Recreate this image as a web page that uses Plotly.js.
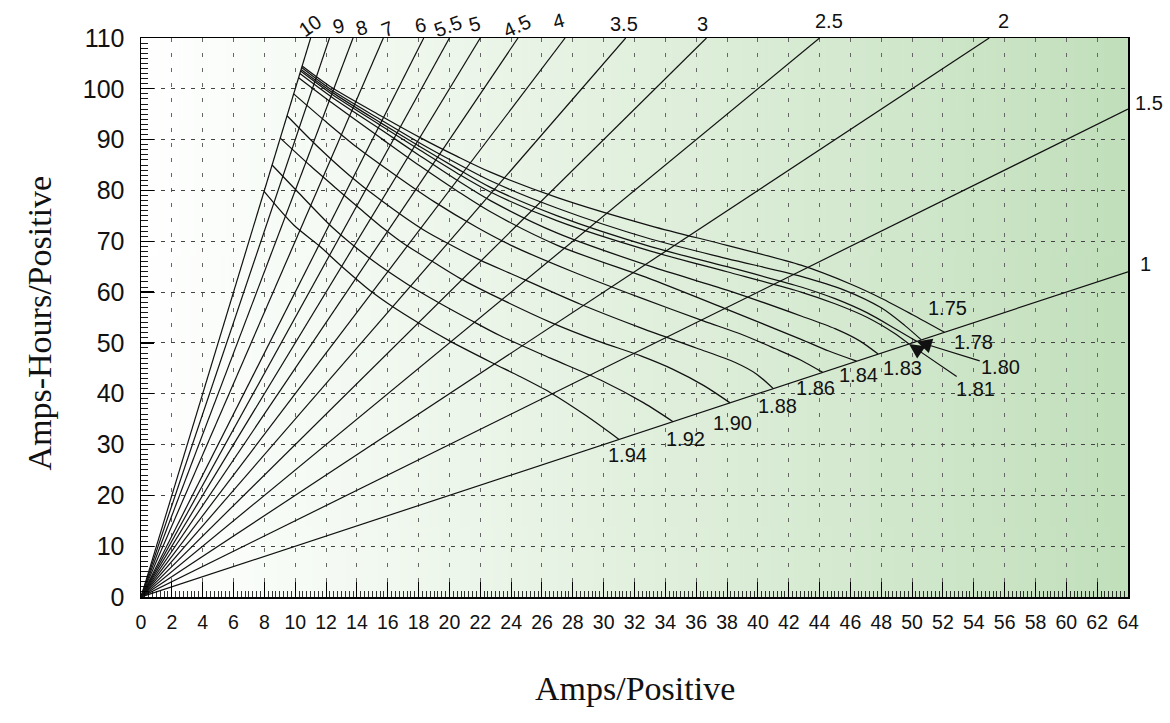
<!DOCTYPE html>
<html><head><meta charset="utf-8">
<script src="https://cdn.plot.ly/plotly-3.0.1.min.js"></script>
<style>html,body{margin:0;padding:0;background:#fff;} #chart{width:1170px;height:723px;}</style>
</head><body><div id="chart"></div>
<script>
// ---------- DATA ----------
const hours = [10, 9, 8, 7, 6, 5.5, 5, 4.5, 4, 3.5, 3, 2.5, 2, 1.5, 1];
const hourLabels = ['10','9','8','7','6','5.5','5','4.5','4','3.5','3','2.5','2','1.5','1'];

const voltages = ['1.75','1.78','1.80','1.81','1.83','1.84','1.86','1.88','1.90','1.92','1.94'];

const amps175 = [10.45, 12.4, 15.6, 18.1, 20.5, 22.66, 27.0, 33.1, 38.0, 42.8, 46.0, 48.0, 50.0, 52.1];
const ah175   = [104.5, 100.2, 94.6, 90.4, 86.7, 83.6, 78.6, 73.0, 69.2, 65.3, 61.6, 58.8, 55.6, 52.1];
const amps178 = [10.42, 12.4, 15.6, 18.1, 20.5, 22.66, 27.0, 33.1, 38.0, 42.8, 45.6, 48.0, 49.5, 50.6];
const ah178   = [104.2, 99.7, 93.8, 89.3, 85.3, 81.9, 76.5, 70.4, 66.6, 63.1, 60.4, 56.9, 53.5, 50.6];
const amps180 = [10.38, 12.4, 15.6, 18.1, 20.5, 22.66, 27.0, 33.1, 38.0, 42.8, 45.0, 47.1, 48.9, 50.3];
const ah180   = [103.8, 99.3, 93.2, 88.6, 84.3, 80.6, 75.0, 68.9, 65.0, 61.0, 58.7, 55.9, 52.8, 50.3];
const amps181 = [10.35, 12.4, 15.6, 18.1, 20.5, 22.66, 27.0, 33.1, 38.0, 42.8, 45.0, 47.1, 48.8, 49.8];
const ah181   = [103.5, 98.9, 92.7, 87.9, 83.4, 79.7, 74.0, 68.0, 64.0, 60.0, 57.7, 55.0, 52.0, 49.8];
const amps183 = [10.3, 12.4, 15.6, 18.1, 20.5, 22.66, 27.0, 33.1, 38.0, 42.8, 45.0, 46.6, 47.8];
const ah183   = [103.0, 98.3, 91.9, 86.8, 82.0, 78.0, 71.6, 65.0, 60.4, 55.3, 52.8, 50.4, 47.8];
const amps184 = [10.22, 12.4, 15.6, 18.1, 20.5, 22.66, 27.0, 33.1, 38.0, 42.8, 44.6, 46.4];
const ah184   = [102.2, 97.2, 90.2, 84.8, 79.9, 75.8, 69.2, 62.5, 56.6, 50.7, 48.4, 46.4];
const amps186 = [9.9, 12.0, 14.0, 16.5, 19.0, 21.8, 24.0, 28.0, 32.45, 36.5, 39.0, 41.1, 42.8, 44.2];
const ah186   = [99.0, 93.5, 88.5, 83.0, 77.8, 72.7, 69.2, 64.0, 58.8, 54.3, 51.6, 48.9, 46.6, 44.2];
const amps188 = [9.47, 11.5, 13.5, 15.5, 18.33, 20.0, 22.0, 24.0, 28.5, 32.45, 36.0, 38.5, 39.9, 41.0];
const ah188   = [94.7, 88.5, 83.0, 78.2, 72.2, 69.4, 66.3, 63.6, 57.6, 52.9, 49.0, 46.2, 43.9, 41.0];
const amps190 = [9.03, 11.0, 12.7, 14.2, 15.73, 17.14, 18.8, 20.74, 23.14, 26.6, 29.6, 32.45, 34.5, 36.5, 38.2];
const ah190   = [90.3, 84.8, 80.3, 76.4, 72.5, 69.3, 66.2, 62.6, 58.9, 54.0, 50.4, 47.4, 44.8, 41.6, 38.2];
const amps192 = [8.5, 10.2, 12.49, 14.98, 17.25, 19.2, 21.36, 23.3, 26.55, 29.8, 32.6, 34.5];
const ah192   = [85.0, 79.6, 72.5, 66.3, 61.6, 58.1, 54.5, 51.4, 47.0, 42.7, 38.2, 34.5];
const amps194 = [7.98, 9.9, 11.52, 12.93, 14.98, 16.28, 17.9, 20.01, 22.76, 24.5, 26.55, 28.9, 31.0];
const ah194   = [79.8, 73.2, 69.2, 65.3, 60.0, 57.2, 54.1, 50.4, 46.1, 43.5, 40.2, 35.6, 31.0];

const curveAmps = [amps175, amps178, amps180, amps181, amps183, amps184, amps186, amps188, amps190, amps192, amps194];
const curveAH   = [ah175, ah178, ah180, ah181, ah183, ah184, ah186, ah188, ah190, ah192, ah194];

const X_MAX = 64, Y_MAX = 110;

// ---------- STYLE (label placement in pixels) ----------
// [xshift, yshift, angle]
const hourLabelStyle = [
  [-1,12,-35],[9,12,-15],[8,10,-15],[4,9,-22],[-3,13,-10],[-1,12,-20],[-6,14,-15],
  [-1,12,-25],[-7,17,-15],[-2,14,0],[-4,14,0],[9,17,0],[14,17,0],[21,6,0],[17,8,0]
];
// {dx,dy} plain label offset, or {ax,ay} arrow label offset
const voltLabelStyle = [
  {dx:3, dy:24}, {dx:52, dy:-2}, {ax:84, ay:26}, {ax:66, ay:45}, {dx:24, dy:-14},
  {dx:2, dy:-14}, {dx:-7, dy:-16}, {dx:4, dy:-17}, {dx:2, dy:-20}, {dx:12, dy:-17}, {dx:8, dy:-16}
];

const SANS = 'Liberation Sans, Arial, Helvetica, sans-serif';
const SERIF = 'Liberation Serif, Times New Roman, serif';

function gradientImage(){
  const c = document.createElement('canvas'); c.width = 512; c.height = 4;
  const g = c.getContext('2d');
  const grd = g.createLinearGradient(0,0,512,0);
  grd.addColorStop(0,'#ffffff');
  grd.addColorStop(0.2,'#f4faf3');
  grd.addColorStop(0.5,'#e2f0de');
  grd.addColorStop(0.75,'#d2e8cd');
  grd.addColorStop(1,'#c1dfbb');
  g.fillStyle = grd; g.fillRect(0,0,512,4);
  return c.toDataURL('image/png');
}

const traces = [];
const annotations = [];

// radial hour lines (Amp-hours = hours x amps)
hours.forEach((h, i) => {
  const xe = Math.min(X_MAX, Y_MAX / h);
  const ye = h * xe;
  traces.push({x:[0, xe], y:[0, ye], mode:'lines', line:{color:'#111', width:1.2}, hoverinfo:'skip', showlegend:false});
  const s = hourLabelStyle[i];
  annotations.push({x:xe, y:ye, xref:'x', yref:'y', text:hourLabels[i], showarrow:false,
    xshift:s[0], yshift:s[1], textangle:s[2], font:{family:SANS, size:20, color:'#111'}});
});

// final-voltage curves
voltages.forEach((v, i) => {
  const xs = curveAmps[i], ys = curveAH[i];
  traces.push({x:xs, y:ys, mode:'lines', line:{color:'#111', width:1.25, shape:'spline', smoothing:0.8}, hoverinfo:'skip', showlegend:false});
  const n = xs.length - 1;
  const s = voltLabelStyle[i];
  if (s.ax !== undefined) {
    annotations.push({x:xs[n], y:ys[n], xref:'x', yref:'y', text:v, showarrow:true, ax:s.ax, ay:s.ay,
      arrowhead:2, arrowsize:2.5, arrowwidth:1.2, arrowcolor:'#111', standoff:0,
      font:{family:SANS, size:20, color:'#111'}});
  } else {
    annotations.push({x:xs[n], y:ys[n], xref:'x', yref:'y', text:v, showarrow:false,
      xshift:s.dx, yshift:s.dy, font:{family:SANS, size:20, color:'#111'}});
  }
});

// axis titles
annotations.push({xref:'paper', yref:'paper', x:0.5, y:0, xanchor:'center', yanchor:'middle', yshift:-91,
  text:'Amps/Positive', showarrow:false, font:{family:SERIF, size:34, color:'#111'}});
annotations.push({xref:'paper', yref:'paper', x:0, y:0.5, xanchor:'center', yanchor:'middle', xshift:-102, yshift:-6,
  text:'Amps-Hours/Positive', showarrow:false, textangle:-90, font:{family:SERIF, size:34, color:'#111'}});

const layout = {
  width:1170, height:723,
  margin:{l:141, r:42, t:38, b:126},
  paper_bgcolor:'#ffffff', plot_bgcolor:'#ffffff',
  showlegend:false, hovermode:false,
  xaxis:{range:[0, X_MAX], tick0:0, dtick:2, showgrid:true, gridcolor:'#666', gridwidth:1, griddash:'4px,11px',
    ticks:'inside', ticklen:15, tickwidth:1, tickcolor:'#000', showline:true, linecolor:'#000', linewidth:1.5, mirror:true,
    zeroline:false, ticklabelstandoff:7, tickfont:{family:SANS, size:19.5, color:'#111'},
    minor:{dtick:0.25, ticks:'inside', ticklen:6, tickwidth:0.8, tickcolor:'#000', showgrid:false}},
  yaxis:{range:[0, Y_MAX], tick0:0, dtick:10, showgrid:true, gridcolor:'#444', gridwidth:1, griddash:'4px,6px',
    ticks:'inside', ticklen:13, tickwidth:1.2, tickcolor:'#000', showline:true, linecolor:'#000', linewidth:1.5, mirror:true,
    zeroline:false, ticklabelstandoff:10, tickfont:{family:SANS, size:25, color:'#111'},
    minor:{dtick:1, ticks:'inside', ticklen:7, tickwidth:0.9, tickcolor:'#000', showgrid:false}},
  images:[{source:gradientImage(), xref:'x', yref:'y', x:0, y:Y_MAX, sizex:X_MAX, sizey:Y_MAX,
    sizing:'stretch', layer:'below', xanchor:'left', yanchor:'top'}],
  annotations:annotations
};

Plotly.newPlot('chart', traces, layout, {staticPlot:true, displayModeBar:false});
</script></body></html>
